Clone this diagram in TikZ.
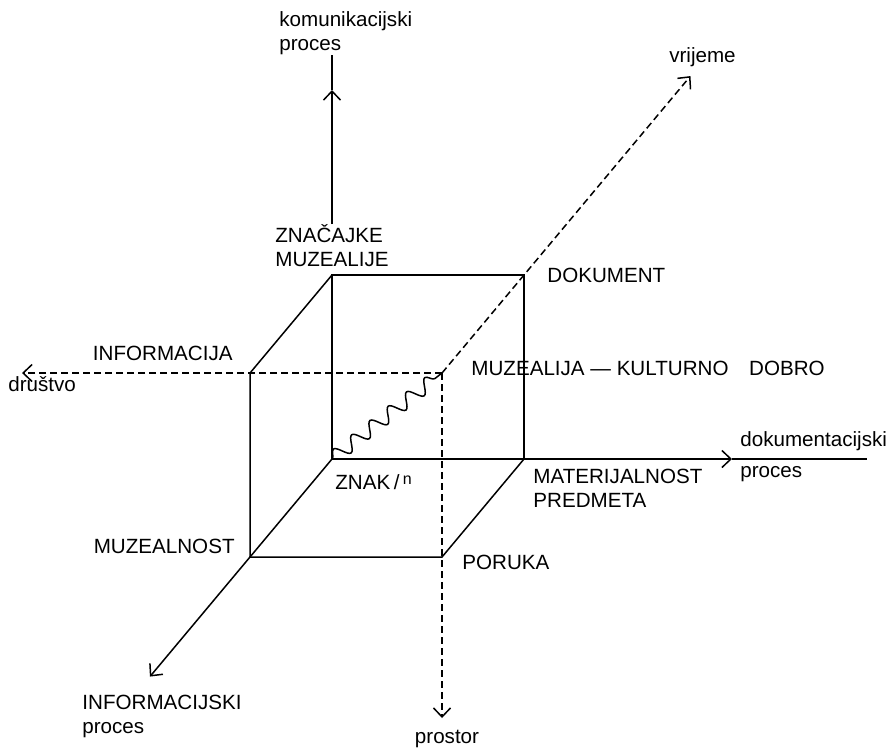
\documentclass[tikz,border=0pt]{standalone}
\usepackage{fontspec}
\setmainfont{Liberation Sans}
\usepackage{tikz}
\usetikzlibrary{arrows.meta, positioning, calc, decorations.pathmorphing}

\begin{document}
\begin{tikzpicture}[
    x=0.5pt, y=-0.5pt,
    lbl/.style={inner sep=0pt, font=\fontsize{10.3}{12}\selectfont},
    edge/.style={line width=0.75pt},
    dline/.style={line width=0.75pt, dash pattern=on 3.5pt off 2pt},
    arrow/.style={-{Straight Barb[length=4.5pt, width=8.5pt]}},
    wave/.style={line width=0.75pt, decorate, decoration={snake, segment length=11.6pt, amplitude=3.5pt}}
]
\useasboundingbox (0,0) rectangle (894,752);
\coordinate (O) at (332,459);
\coordinate (Z) at (332,275);
\coordinate (D) at (524,275);
\coordinate (M) at (524,459);
\coordinate (I) at ($(Z)+(-82,98)$);
\coordinate (Mu) at ($(O)+(-82,98)$);
\coordinate (Po) at ($(M)+(-82,98)$);
\coordinate (P) at ($(D)+(-82,98)$);
\coordinate (Ti) at ($(O)!2.22!(Mu)$);
\coordinate (Tv) at ($(P)!3.03!(D)$);
\coordinate (Tp) at (442,718);
\coordinate (Td) at (22,373);
\coordinate (Tdoc) at (732,459);
\coordinate (Tdocend) at (867,459);
\coordinate (Tk) at (332,90);
\coordinate (Tktop) at (332,55);
\node[lbl, align=left, above=4pt of Z] (znacajke) {ZNAČAJKE\\MUZEALIJE};
\node[lbl, align=left, above right=0pt and -26.5pt of Tktop] (komproc) {komunikacijski\\proces};
\node[lbl, right=11.5pt of D] (dokument) {DOKUMENT};
\node[lbl, right=14.5pt of P, yshift=2.5pt] (muzealija) {MUZEALIJA — KULTURNO\quad DOBRO};
\node[lbl, above left=6pt and 8.5pt of I] (informacija) {INFORMACIJA};
\node[lbl, below right=1.5pt and -7pt of Td] (drustvo) {društvo};
\node[lbl, above left=1.5pt and 7.5pt of Mu] (muzealnost) {MUZEALNOST};
\node[lbl, below right=7.5pt and 1.5pt of O] (znak) {ZNAK\,/\,\raisebox{2.5pt}{\footnotesize n}};
\node[lbl, align=left, below right=5pt and 4.5pt of M] (materijalnost) {MATERIJALNOST\\PREDMETA};
\node[lbl, right=10pt of Po, yshift=-2.5pt] (poruka) {PORUKA};
\node[lbl, align=left, below=9pt of Ti, xshift=6pt] (infproc) {INFORMACIJSKI\\proces};
\node[lbl, below=6pt of Tp, xshift=2.5pt] (prostor) {prostor};
\node[lbl, above right=4pt and 4pt of Tdoc] (dokum) {dokumentacijski};
\node[lbl, below right=3.5pt and 4pt of Tdoc] (dokproc) {proces};
\node[lbl, above=4.5pt of Tv, xshift=6pt] (vrijeme) {vrijeme};
\draw[edge] (O) -- (Z) -- (D) -- (M) -- cycle;
\draw[edge] (Z) -- (I) -- (Mu) -- (Po) -- (M);
\draw[edge, arrow] (O) -- (Ti);
\draw[edge, arrow] (M) -- (Tdoc);
\draw[edge] (Tdoc) -- (Tdocend);
\draw[edge, arrow] (Z |- znacajke.north) -- (Tk);
\draw[edge] (Tk) -- (Tktop);
\draw[dline, arrow] (P) -- (Td);
\draw[dline, arrow] (P) -- (Tp);
\draw[dline, arrow] (P) -- (Tv);
\draw[wave] (O) -- (P);
\end{tikzpicture}
\end{document}
